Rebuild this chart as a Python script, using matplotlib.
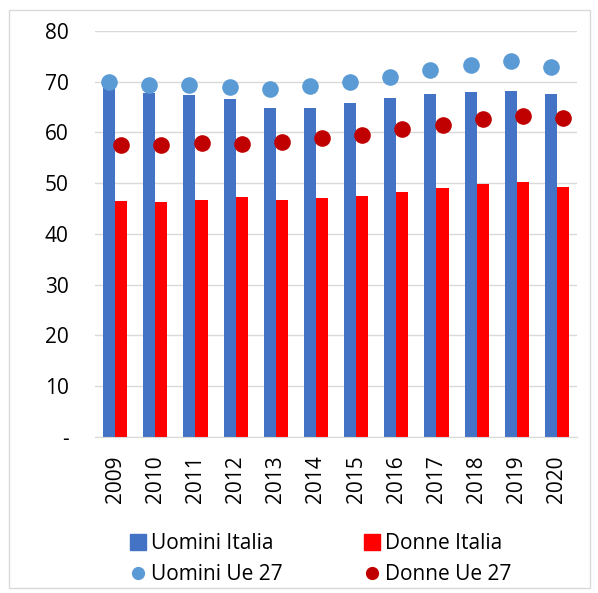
import numpy as np
import matplotlib.pyplot as plt
from matplotlib.patches import Rectangle
from matplotlib.lines import Line2D

years = ['2009', '2010', '2011', '2012', '2013', '2014', '2015', '2016', '2017', '2018', '2019', '2020']
uomini_italia = [68.8, 67.7, 67.4, 66.6, 64.9, 64.9, 65.7, 66.7, 67.5, 67.9, 68.2, 67.5]
donne_italia = [46.4, 46.2, 46.7, 47.2, 46.7, 47.0, 47.5, 48.3, 49.1, 49.8, 50.3, 49.3]
uomini_ue27 = [70.0, 69.4, 69.4, 68.9, 68.6, 69.1, 69.9, 70.9, 72.2, 73.2, 74.0, 72.9]
donne_ue27 = [57.5, 57.5, 57.9, 57.8, 58.1, 58.8, 59.4, 60.6, 61.5, 62.6, 63.3, 62.8]

plt.rcParams['font.family'] = ['Open Sans', 'DejaVu Sans']

fig = plt.figure(figsize=(5.98, 5.93), dpi=100)
ax = fig.add_axes([0.159, 0.263, 0.806, 0.685])

x = np.arange(len(years))
w = 0.3
blue = '#4472c4'
red = '#ff0000'
lblue = '#5b9bd5'
dred = '#c00000'

ax.bar(x - w / 2, uomini_italia, w, color=blue, label='Uomini Italia', zorder=2)
ax.bar(x + w / 2, donne_italia, w, color=red, label='Donne Italia', zorder=2)
ax.scatter(x - w / 2, uomini_ue27, s=120, color=lblue, label='Uomini Ue 27', zorder=3)
ax.scatter(x + w / 2, donne_ue27, s=120, color=dred, label='Donne Ue 27', zorder=3)

ax.set_ylim(0, 80)
ax.set_xlim(-0.5, len(years) - 0.5)
ax.set_yticks(range(0, 81, 10))
ax.set_yticklabels(['-'] + [str(v) for v in range(10, 81, 10)])
ax.set_xticks(x)
ax.set_xticklabels(years, rotation=90)
ax.tick_params(axis='both', length=0, labelsize=15, colors='#000000')
ax.tick_params(axis='y', pad=19)
ax.tick_params(axis='x', pad=13)
ax.grid(axis='y', color='#d9d9d9', linewidth=1, zorder=0)
for s in ['left', 'right', 'top']:
    ax.spines[s].set_visible(False)
ax.spines['bottom'].set_color('#d9d9d9')

handles = [
    Line2D([], [], marker='s', linestyle='', color=blue, markersize=12),
    Line2D([], [], marker='o', linestyle='', color=lblue, markersize=8.5),
    Line2D([], [], marker='s', linestyle='', color=red, markersize=12),
    Line2D([], [], marker='o', linestyle='', color=dred, markersize=8.5),
]
labels = ['Uomini Italia', 'Uomini Ue 27', 'Donne Italia', 'Donne Ue 27']
fig.legend(handles, labels, ncol=2, loc='center', bbox_to_anchor=(0.535, 0.057),
           frameon=False, fontsize=15, handletextpad=0.15, columnspacing=3.85,
           labelspacing=0.5, handlelength=0.9)

fig.patches.append(Rectangle((0.015, 0.008), 0.972, 0.975, transform=fig.transFigure,
                             fill=False, edgecolor='#d9d9d9', linewidth=1))

plt.savefig('out.png', dpi=100)
